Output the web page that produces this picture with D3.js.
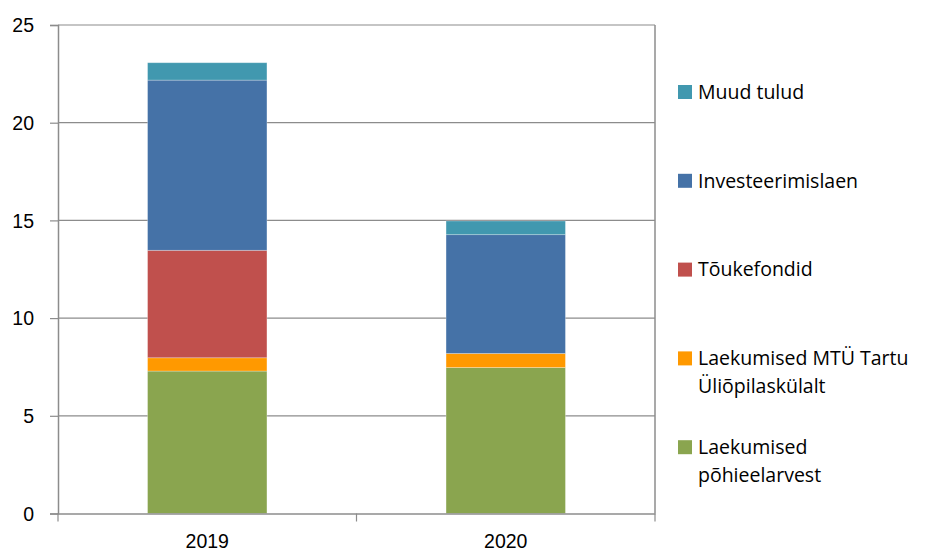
<!DOCTYPE html>
<html lang="et">
<head>
  <meta charset="UTF-8">
  <title>Tulud 2019-2020</title>
  <script src="https://d3js.org/d3.v7.min.js"></script>
  <style>
    body { margin: 0; padding: 0; background: #fff; }
    svg { display: block; font-family: "Open Sans", Lato, sans-serif; }
    .tick text { font-size: 19.5px; fill: #000; }
    .legend text { font-size: 19.5px; fill: #000; }
  </style>
</head>
<body>
<div id="chart"></div>
<script>
  // data (bottom to top of the stack)
  const years = ["2019", "2020"];
  const seriesNames = [
    "Laekumised põhieelarvest",
    "Laekumised MTÜ Tartu Üliõpilaskülalt",
    "Tõukefondid",
    "Investeerimislaen",
    "Muud tulud"
  ];
  const pohieelarve = [7.29, 7.47];
  const mtu = [0.68, 0.72];
  const toukefondid = [5.5, 0];
  const laen = [8.71, 6.08];
  const muud = [0.89, 0.70];
  const colors = ["#8aa54f", "#ff9900", "#c0504d", "#4572a7", "#4198af"];
  const yTicks = [0, 5, 10, 15, 20, 25];
  // legend text split into lines, top item first
  const legendLines = [
    ["Muud tulud"],
    ["Investeerimislaen"],
    ["Tõukefondid"],
    ["Laekumised MTÜ Tartu", "Üliõpilaskülalt"],
    ["Laekumised", "põhieelarvest"]
  ];

  const W = 927, H = 554;
  const plot = { left: 58, right: 655, top: 25, bottom: 513.5 };

  const svg = d3.select("#chart").append("svg")
    .attr("width", W).attr("height", H);

  const x = d3.scaleBand().domain(years)
    .range([plot.left, plot.right]).paddingInner(0).paddingOuter(0);
  const y = d3.scaleLinear().domain([0, 25]).range([plot.bottom, plot.top]);

  const table = years.map((yr, i) => ({
    year: yr,
    s0: pohieelarve[i], s1: mtu[i], s2: toukefondid[i], s3: laen[i], s4: muud[i]
  }));
  const stack = d3.stack().keys(["s0", "s1", "s2", "s3", "s4"]);
  const layers = stack(table);

  // gridlines
  svg.append("g")
    .selectAll("line").data(yTicks.filter(d => d > 0)).enter().append("line")
      .attr("x1", plot.left).attr("x2", plot.right)
      .attr("y1", d => y(d)).attr("y2", d => y(d))
      .attr("stroke", "#8c8c8c").attr("stroke-width", 1.2);

  // right border
  svg.append("line")
    .attr("x1", plot.right).attr("x2", plot.right)
    .attr("y1", plot.top).attr("y2", plot.bottom)
    .attr("stroke", "#8c8c8c").attr("stroke-width", 1.5);

  // bars
  const barW = x.bandwidth() * 0.4;
  svg.append("g")
    .selectAll("g").data(layers).enter().append("g")
      .attr("fill", (d, i) => colors[i])
    .selectAll("rect").data(d => d.filter(v => v[1] - v[0] > 0)).enter().append("rect")
      .attr("x", d => x(d.data.year) + (x.bandwidth() - barW) / 2)
      .attr("width", barW)
      .attr("y", d => y(d[1]))
      .attr("height", d => y(d[0]) - y(d[1]))
      .attr("stroke", "rgba(255,255,255,0.35)")
      .attr("stroke-width", 0.8);

  // y axis
  const yAxis = svg.append("g")
    .attr("transform", `translate(${plot.left},0)`)
    .call(d3.axisLeft(y).tickValues(yTicks).tickSize(8).tickPadding(16));
  yAxis.select(".domain").attr("stroke", "#8c8c8c").attr("stroke-width", 1.5);
  yAxis.selectAll(".tick line").attr("stroke", "#8c8c8c").attr("stroke-width", 1.2);
  yAxis.selectAll(".tick text").attr("dy", "0.35em");

  // x axis
  const xAxis = svg.append("g")
    .attr("transform", `translate(0,${plot.bottom})`)
    .call(d3.axisBottom(x).tickSize(0).tickPadding(28));
  xAxis.select(".domain").attr("stroke", "#8c8c8c").attr("stroke-width", 1.5);
  xAxis.selectAll(".tick text").attr("dy", "0.35em");
  // category boundary ticks
  svg.append("g")
    .selectAll("line").data(years.concat(["end"])).enter().append("line")
      .attr("x1", (d, i) => plot.left + i * x.bandwidth())
      .attr("x2", (d, i) => plot.left + i * x.bandwidth())
      .attr("y1", plot.bottom).attr("y2", plot.bottom + 8)
      .attr("stroke", "#8c8c8c").attr("stroke-width", 1.2);

  // legend
  const legend = svg.append("g").attr("class", "legend");
  const legendTop = 92, legendStep = 88.8, lineH = 28;
  legendLines.forEach((lines, i) => {
    const cy = legendTop + i * legendStep;
    const colorIdx = seriesNames.length - 1 - i;
    legend.append("rect")
      .attr("x", 678).attr("y", cy - 7)
      .attr("width", 14).attr("height", 14)
      .attr("fill", colors[colorIdx]);
    lines.forEach((ln, j) => {
      legend.append("text")
        .attr("x", 698).attr("y", cy + j * lineH)
        .attr("dy", "0.35em")
        .text(ln);
    });
  });
</script>
</body>
</html>
